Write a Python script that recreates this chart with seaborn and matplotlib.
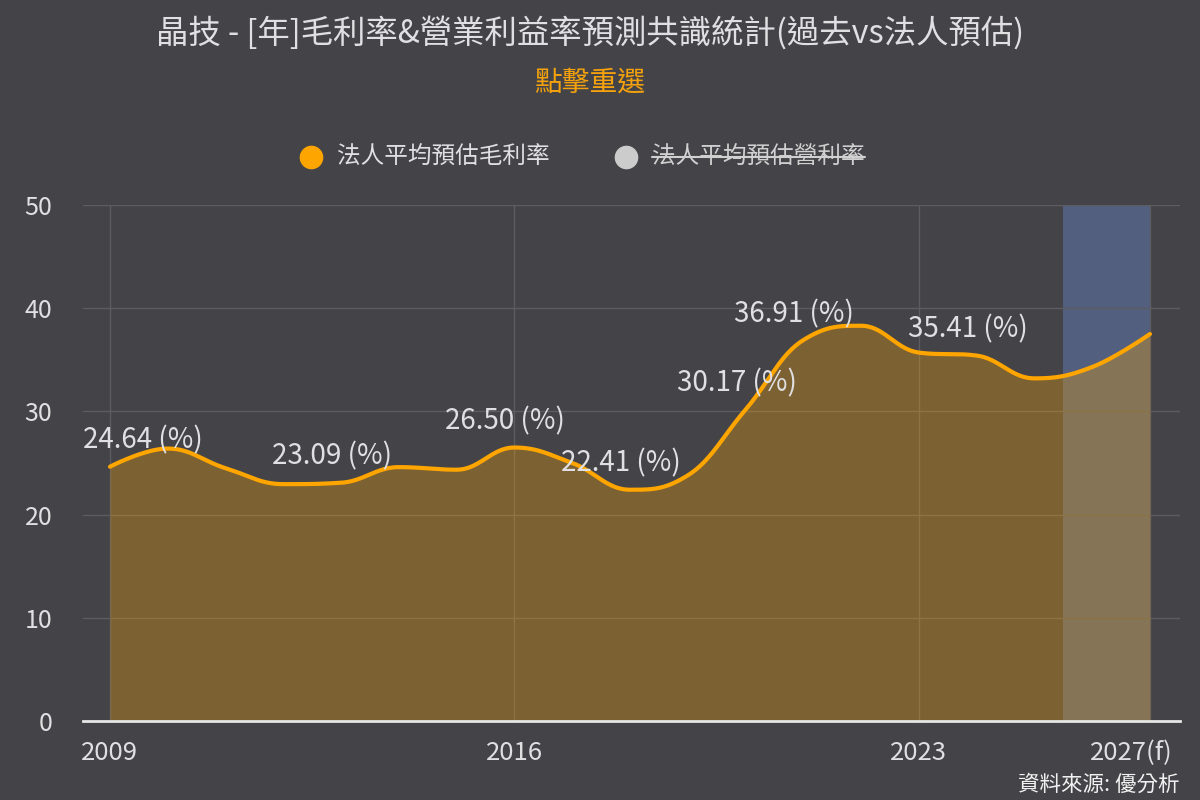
import numpy as np
import pandas as pd
import seaborn as sns
import matplotlib
matplotlib.use("Agg")
import matplotlib.pyplot as plt
from matplotlib.lines import Line2D
from matplotlib.transforms import ScaledTranslation

years = [str(y) for y in range(2009, 2027)] + ["2027(f)"]
gross_margin = [24.64, 26.40, 24.50, 22.95, 23.09, 24.60, 24.35, 26.50, 25.00, 22.41,
                23.80, 30.17, 36.91, 38.30, 35.70, 35.41, 33.20, 34.30, 37.50]
labeled_years = ["2009", "2013", "2016", "2018", "2020", "2021", "2024"]
tick_years = ["2009", "2016", "2023", "2027(f)"]
forecast_years = ["2026", "2027(f)"]
y_ticks = [0, 10, 20, 30, 40, 50]

BG = "#444448"
TXT = "#e0e0e3"
ORANGE = "#ffa500"

df = pd.DataFrame({"year": years, "gm": gross_margin})
df["pos"] = np.arange(len(df))


def spline_path(xs, ys, smoothing=1.5, n=40):
    # highcharts-like spline through the points
    xs, ys = np.asarray(xs, float), np.asarray(ys, float)
    m = len(xs)
    lc = np.column_stack([xs, ys])
    rc = lc.copy()
    d = smoothing + 1
    for i in range(1, m - 1):
        x, y = xs[i], ys[i]
        px, py, nx, ny = xs[i - 1], ys[i - 1], xs[i + 1], ys[i + 1]
        lcx, lcy = (smoothing * x + px) / d, (smoothing * y + py) / d
        rcx, rcy = (smoothing * x + nx) / d, (smoothing * y + ny) / d
        corr = (rcy - lcy) * (rcx - x) / (rcx - lcx) + y - rcy
        lcy += corr
        rcy += corr
        if lcy > py and lcy > y:
            lcy = max(py, y); rcy = 2 * y - lcy
        elif lcy < py and lcy < y:
            lcy = min(py, y); rcy = 2 * y - lcy
        if rcy > ny and rcy > y:
            rcy = max(ny, y); lcy = 2 * y - rcy
        elif rcy < ny and rcy < y:
            rcy = min(ny, y); lcy = 2 * y - rcy
        lc[i] = lcx, lcy
        rc[i] = rcx, rcy
    t = np.linspace(0, 1, n)[:, None]
    segs = []
    for i in range(m - 1):
        p0 = np.array([xs[i], ys[i]])
        p3 = np.array([xs[i + 1], ys[i + 1]])
        p1, p2 = rc[i], lc[i + 1]
        seg = (1 - t) ** 3 * p0 + 3 * (1 - t) ** 2 * t * p1 + 3 * (1 - t) * t ** 2 * p2 + t ** 3 * p3
        segs.append(seg if i == 0 else seg[1:])
    return np.vstack(segs)


curve = spline_path(df["pos"], df["gm"])
curve_df = pd.DataFrame({"x": curve[:, 0], "y": curve[:, 1]})

sns.set_theme(style="dark")
plt.rcParams["font.family"] = ["Noto Sans CJK TC", "DejaVu Sans"]

fig = plt.figure(figsize=(12, 8), dpi=100, facecolor=BG)
ax = fig.add_axes([83 / 1200, 1 - 721 / 800, (1180 - 83) / 1200, (721 - 205) / 800])
ax.set_facecolor(BG)

pos = dict(zip(df["year"], df["pos"]))
ax.axvspan(pos[forecast_years[0]] - 0.5, pos[forecast_years[-1]], color="#525f7e", lw=0, zorder=0.5)

ax.fill_between(curve_df["x"], 0, curve_df["y"], color=ORANGE, alpha=0.3, lw=0, zorder=1)
sns.lineplot(data=curve_df, x="x", y="y", sort=False, estimator=None, color=ORANGE,
             lw=3, ax=ax, zorder=3)

ax.set_xlim(-0.467, len(df) - 1 + 0.52)
ax.set_ylim(0, 50)

labels = []
for yr in labeled_years:
    row = df[df["year"] == yr].iloc[0]
    labels.append(ax.annotate(f"{row['gm']:.2f} (%)", (row["pos"], row["gm"]), xytext=(-9, 26),
                              textcoords="offset pixels", ha="center", va="center",
                              fontsize=20, color=TXT, zorder=4))

ax.set_yticks(y_ticks)
ax.set_xticks([pos[y] for y in tick_years])
ax.set_xticklabels(tick_years)
ax.set_xlabel("")
ax.set_ylabel("")
ax.tick_params(axis="y", length=0, pad=22, labelsize=18, labelcolor=TXT)
ax.tick_params(axis="x", length=0, pad=14, labelsize=18.5, labelcolor=TXT)
last = ax.get_xticklabels()[-1]
last.set_transform(last.get_transform() + ScaledTranslation(-19 / 100, 0, fig.dpi_scale_trans))

ax.grid(True, axis="both", color="#5c5c61", lw=1)
for s in ["top", "right", "left"]:
    ax.spines[s].set_visible(False)
ax.spines["bottom"].set_color("#e6e6e6")
ax.spines["bottom"].set_linewidth(2)
ax.spines["bottom"].set_zorder(5)

fig.text(590 / 1200, 1 - 33 / 800, "晶技 - [年]毛利率&營業利益率預測共識統計(過去vs法人預估)",
         ha="center", va="center", fontsize=23.3, color=TXT)
fig.text(590 / 1200, 1 - 83 / 800, "點擊重選", ha="center", va="center",
         fontsize=20, color="#f5a20c")

ly = 1 - 157 / 800
fig.add_artist(Line2D([311 / 1200], [ly], marker="o", ms=16, color=ORANGE, lw=0,
                      transform=fig.transFigure))
fig.text(337 / 1200, ly, "法人平均預估毛利率", ha="left", va="center", fontsize=17, color=TXT)
fig.add_artist(Line2D([626 / 1200], [ly], marker="o", ms=16, color="#cccccc", lw=0,
                      transform=fig.transFigure))
hid = fig.text(652 / 1200, ly, "法人平均預估營利率", ha="left", va="center", fontsize=17, color="#d0d0d0")

fig.canvas.draw()
bb = hid.get_window_extent().transformed(fig.transFigure.inverted())
fig.add_artist(Line2D([bb.x0, bb.x1], [ly, ly], color="#d0d0d0", lw=1.5, transform=fig.transFigure))

# keep data labels inside the plot area, like the original
ax_left = ax.get_window_extent().x0
for lab in labels:
    ext = lab.get_window_extent()
    if ext.x0 < ax_left:
        ox, oy = lab.xyann
        lab.xyann = (ox + (ax_left - ext.x0), oy)

fig.text(1180 / 1200, 1 - 785 / 800, "資料來源: 優分析", ha="right", va="center",
         fontsize=15.5, color="#f0f0f0")

fig.savefig("out.png", dpi=100, facecolor=BG)
